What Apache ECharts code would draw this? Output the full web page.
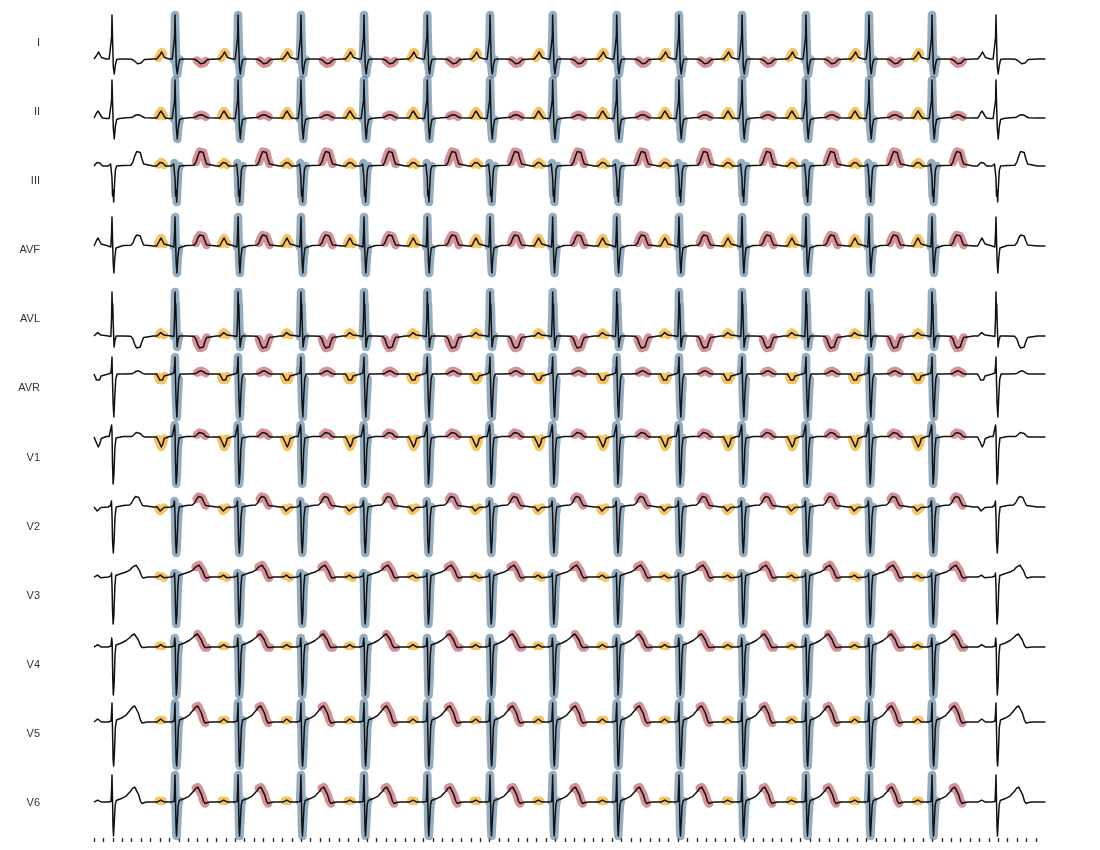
<!DOCTYPE html>
<html><head><meta charset="utf-8">
<script src="https://cdn.jsdelivr.net/npm/echarts@6/dist/echarts.min.js"></script>
<style>html,body{margin:0;padding:0;background:#fff}#c{width:1100px;height:850px}</style>
</head><body><div id="c"></div>
<script>
// ---- data ----
const leads = ['I','II','III','AVF','AVL','AVR','V1','V2','V3','V4','V5','V6'];
// R-peak times (s)
const rPeaks = [0.191, 0.860, 1.529, 2.197, 2.866, 3.538, 4.204, 4.869, 5.549, 6.210, 6.879, 7.558, 8.227, 8.896, 9.575];
// beats with delineated P / QRS / T
const annotatedBeats = [1,2,3,4,5,6,7,8,9,10,11,12,13];
const traceEnd = 10.1;
// beat templates: [ms from R, amplitude]
const tplI   = [[-220,0],[-195,0],[-178,1],[-160,4],[-142,7],[-126,5],[-112,1.5],[-100,0],[-60,0],[-30,0],[-12,-1],[-4,22],[0,44],[6,20],[14,-8],[24,-15],[36,-6],[50,-0.5],[80,0],[150,0],[210,-0.3],[232,-1.5],[252,-3.5],[272,-4.8],[290,-5],[308,-4],[326,-2],[344,-0.5],[358,0],[440,0]];
const tplII  = [[-220,0],[-195,0],[-180,2],[-164,5],[-148,7],[-132,5.5],[-116,2],[-100,0],[-60,-0.5],[-30,-0.5],[-12,-1],[-4,18],[0,38],[6,16],[14,-10],[24,-21],[36,-8],[50,-1.5],[80,-0.5],[150,0.3],[210,0.5],[235,2],[258,3],[280,3.2],[302,2.7],[325,1.2],[348,0.3],[440,0]];
const tplIII = [[-220,0],[-195,0],[-178,1.5],[-160,3.5],[-145,4],[-130,3],[-115,1],[-100,0],[-40,0],[-15,2],[-7,3],[0,-12],[6,-30],[12,-24],[18,-36],[26,-20],[36,-4],[50,0],[120,0.5],[200,0.8],[222,4],[242,10],[262,14.5],[282,16],[300,13.5],[318,7],[336,2],[356,0],[440,0]];
const tplAVF = [[-220,0],[-195,0],[-180,2],[-164,5.5],[-148,8],[-132,6],[-116,2],[-100,0],[-40,0],[-12,-1],[-4,14],[0,29],[5,10],[12,-15],[20,-27],[30,-12],[42,-2],[55,0],[120,0.5],[200,0.8],[222,3],[242,8],[262,11],[282,12],[300,10],[318,5],[336,1],[356,0],[440,0]];
const tplAVL = [[-220,0],[-190,0],[-172,1.5],[-152,3.5],[-134,3],[-116,1],[-100,0],[-40,0],[-12,-0.5],[-4,20],[0,44],[4,28],[8,32],[14,10],[22,-11],[32,-4],[45,0],[120,0],[200,-0.3],[222,-3],[242,-8.5],[262,-12],[282,-13],[300,-11],[318,-5.5],[336,-1.5],[356,0],[440,0]];
const tplAVR = [[-220,0],[-195,0],[-180,-2.5],[-164,-6],[-148,-8],[-132,-6],[-116,-2],[-100,0],[-40,0],[-12,1],[-4,9],[0,17],[5,-5],[12,-30],[20,-43],[30,-22],[40,-5],[55,0],[120,0],[210,0.2],[235,1.5],[258,2.8],[280,3.2],[302,2.2],[325,0.7],[348,0],[440,0]];
const tplV1  = [[-220,0],[-195,0],[-180,-2],[-164,-6],[-146,-10],[-130,-7],[-114,-1.5],[-100,0.5],[-60,0.5],[-30,0.5],[-12,2],[-4,12],[0,6],[5,-25],[12,-47],[20,-38],[30,-12],[42,-1],[55,0.5],[120,0.5],[210,0.5],[235,2.5],[258,4.5],[278,5],[300,3.5],[322,1.2],[345,0],[440,0]];
const tplV2  = [[-220,0],[-190,0],[-175,-1.5],[-157,-4],[-138,-3],[-118,-0.5],[-100,0],[-40,0],[-15,1.5],[-6,6],[0,-8],[6,-34],[14,-46],[22,-34],[32,-10],[44,0],[60,1],[120,1.5],[185,2],[208,4],[230,8],[250,10.5],[268,11],[285,9.5],[305,5],[325,1.5],[345,0],[440,0]];
const tplV3  = [[-220,0],[-190,0],[-172,1.2],[-154,2],[-136,0.5],[-118,-0.8],[-100,0],[-40,0],[-12,1],[-5,4],[0,-8],[6,-34],[12,-47],[20,-38],[30,-10],[40,1.5],[55,2.5],[100,3.5],[150,5],[195,7.5],[218,10],[238,11.5],[255,12],[272,11],[292,6.5],[312,1.5],[330,-1],[350,-0.7],[380,0],[440,0]];
const tplV4  = [[-220,0],[-190,0],[-172,1.2],[-152,2.5],[-132,1],[-112,0],[-40,0],[-10,1],[-3,9],[2,4],[8,-30],[14,-48],[22,-38],[32,-8],[42,2],[55,2.5],[100,4],[150,6.5],[190,9.5],[215,12],[238,13],[258,12],[280,7],[300,2],[318,-0.5],[340,-0.5],[380,0],[440,0]];
const tplV5  = [[-220,0],[-190,0],[-172,1.8],[-152,3],[-132,2],[-112,0],[-40,0],[-10,1],[-4,10],[0,19],[6,-10],[12,-38],[18,-44],[26,-30],[36,-5],[48,2],[60,2.5],[100,4],[150,7],[195,12],[220,15],[242,16],[262,14.5],[282,8.5],[302,2],[320,-1],[345,-0.5],[380,0],[440,0]];
const tplV6  = [[-220,0],[-190,0],[-172,1.3],[-152,2],[-132,1],[-112,0],[-40,0],[-10,0.5],[-4,13],[0,27],[5,5],[11,-25],[16,-34],[24,-20],[34,-3],[45,1.5],[60,2],[100,3.5],[150,6],[195,10.5],[220,14],[242,15],[262,13.5],[282,7.5],[302,1],[320,-1.5],[345,-0.5],[380,0],[440,0]];
const templates = [tplI,tplII,tplIII,tplAVF,tplAVL,tplAVR,tplV1,tplV2,tplV3,tplV4,tplV5,tplV6];
// vertical range of each lead strip [min, max]
const yRanges = [[-18.2,51],[-28.3,40.8],[-49.5,19.7],[-38.7,30.5],[-17.8,51.3],[-49,20.2],[-55.2,14],[-54.3,14.8],[-53.5,15.7],[-52.7,16.5],[-46.8,22.3],[-36,33.2]];
// wave windows (ms from R)
const pWindow = [-182,-114];
const qrsWindow = [-14,50];
const tWindow = [218,340];
// time axis ticks
const tickStep = 0.1;
const tickMax = 10;

// ---- build ----
const rowTop = 8, rowH = 69.17, plotLeft = 94, pxPerSec = 94.2;
const grids = [], xAxes = [], yAxes = [], series = [], graphics = [];
leads.forEach((name, li) => {
  const tpl = templates[li];
  const trace = [[0,0]];
  const bands = {p:[], q:[], t:[]};
  rPeaks.forEach((r, bi) => {
    const ann = annotatedBeats.includes(bi);
    tpl.forEach(([ms, v]) => {
      const t = +(r + ms/1000).toFixed(4);
      if (t > 0 && t <= traceEnd) trace.push([t, v]);
      if (ann) {
        if (ms >= pWindow[0] && ms <= pWindow[1]) bands.p.push([t, v]);
        if (ms >= qrsWindow[0] && ms <= qrsWindow[1]) bands.q.push([t, v]);
        if (ms >= tWindow[0] && ms <= tWindow[1]) bands.t.push([t, v]);
      }
    });
    if (ann) { bands.p.push([r,'-']); bands.q.push([r+0.1,'-']); bands.t.push([r+0.4,'-']); }
  });
  trace.push([traceEnd, 0]);
  grids.push({left:plotLeft, width:traceEnd*pxPerSec, top: rowTop + li*rowH, height: rowH, containLabel:false});
  xAxes.push({type:'value', gridIndex:li, min:0, max:traceEnd, show:false});
  yAxes.push({type:'value', gridIndex:li, min:yRanges[li][0], max:yRanges[li][1], show:false, splitLine:{show:false}});
  const bandStyle = (c) => ({width:8.5, color:c, cap:'round', join:'round'});
  series.push({type:'line', xAxisIndex:li, yAxisIndex:li, data:bands.p, showSymbol:false, connectNulls:false, z:1, silent:true, animation:false, lineStyle:bandStyle('rgba(242,172,30,0.7)')});
  series.push({type:'line', xAxisIndex:li, yAxisIndex:li, data:bands.q, showSymbol:false, connectNulls:false, z:1, silent:true, animation:false, lineStyle:bandStyle('rgba(78,118,152,0.6)')});
  series.push({type:'line', xAxisIndex:li, yAxisIndex:li, data:bands.t, showSymbol:false, connectNulls:false, z:1, silent:true, animation:false, lineStyle:bandStyle('rgba(186,66,78,0.58)')});
  series.push({type:'line', xAxisIndex:li, yAxisIndex:li, data:trace, showSymbol:false, clip:false, z:3, silent:true, animation:false, lineStyle:{width:1.5, color:'#111', join:'round'}});
  graphics.push({type:'text', x:40, y: rowTop + (li+0.5)*rowH, style:{text:name, fill:'#333', font:'11px "Liberation Sans", Arial, sans-serif', textAlign:'right', textVerticalAlign:'middle'}});
});
// tick strip under the last lead
const tg = leads.length;
grids.push({left:plotLeft, width:tickMax*pxPerSec, top: rowTop + tg*rowH - 1, height:1, containLabel:false});
xAxes.push({type:'value', gridIndex:tg, min:0, max:tickMax, interval:tickStep, position:'bottom',
  axisLine:{show:false, onZero:false}, axisLabel:{show:false}, splitLine:{show:false},
  axisTick:{show:true, length:4, inside:false, lineStyle:{color:'#222', width:1.3}}});
yAxes.push({type:'value', gridIndex:tg, min:0, max:1, show:false});
const chart = echarts.init(document.getElementById('c'), null, {renderer:'canvas'});
chart.setOption({animation:false, grid:grids, xAxis:xAxes, yAxis:yAxes, series:series, graphic:graphics});
</script></body></html>
